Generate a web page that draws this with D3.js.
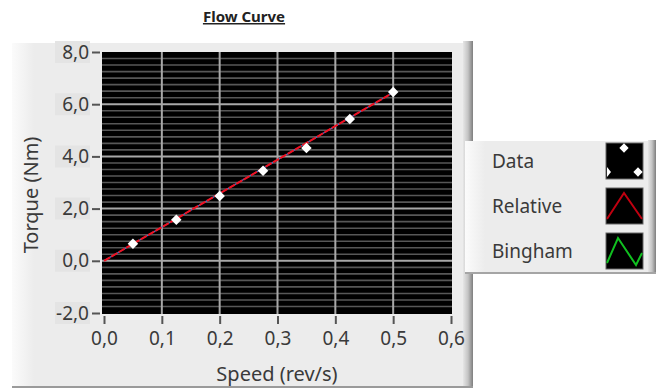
<!DOCTYPE html>
<html>
  <head>
      <title>Flow Curve</title>
      <script src="https://cdn.jsdelivr.net/npm/d3@7"></script>
      <style>
        body { margin: 0; background: #fff; }
        text { font-family: "Noto Sans", "Open Sans", sans-serif; }
      </style>
  </head>
  <body>
        <div></div>
        <script>
           // measured points: speed (rev/s) vs torque (Nm)
           var speed = [0.05, 0.125, 0.2, 0.275, 0.35, 0.425, 0.5]
           var torque = [0.65, 1.57, 2.48, 3.45, 4.32, 5.43, 6.47]
           // relative model line
           var relSpeed = [0, 0.5]
           var relTorque = [0, 6.45]
           var xTicks = [0, 0.1, 0.2, 0.3, 0.4, 0.5, 0.6]
           var yTicks = [-2, 0, 2, 4, 6, 8]
           var legendNames = ["Data", "Relative", "Bingham"]

           var W = 656, H = 392
           var svg = d3.select("div").append("svg").attr("width", W).attr("height", H)
           var defs = svg.append("defs")

           var g1 = defs.append("linearGradient").attr("id", "edge").attr("x1", 0).attr("x2", 1).attr("y1", 0).attr("y2", 0)
           g1.append("stop").attr("offset", 0).attr("stop-color", "#e6e6e6")
           g1.append("stop").attr("offset", 0.5).attr("stop-color", "#c4c4c4")
           g1.append("stop").attr("offset", 1).attr("stop-color", "#7e7e7e")
           var g2 = defs.append("linearGradient").attr("id", "leftband").attr("x1", 0).attr("x2", 1).attr("y1", 0).attr("y2", 0)
           g2.append("stop").attr("offset", 0).attr("stop-color", "#fbfbfb")
           g2.append("stop").attr("offset", 1).attr("stop-color", "#ececec")
           defs.append("filter").attr("id", "glow").append("feGaussianBlur").attr("stdDeviation", 0.6)

           svg.append("rect").attr("width", W).attr("height", H).attr("fill", "#fff")

           // title
           svg.append("text").attr("x", 244).attr("y", 22).attr("text-anchor", "middle")
              .attr("font-size", 15).attr("font-weight", "bold").attr("fill", "#222")
              .attr("text-decoration", "underline").text("Flow Curve")

           // graph panel
           var panel = svg.append("g")
           panel.append("rect").attr("x", 12).attr("y", 43).attr("width", 451).attr("height", 343).attr("fill", "#ececec")
           panel.append("rect").attr("x", 12).attr("y", 43).attr("width", 22).attr("height", 343).attr("fill", "url(#leftband)")
           panel.append("rect").attr("x", 463).attr("y", 41).attr("width", 10).attr("height", 346).attr("fill", "url(#edge)")
           panel.append("rect").attr("x", 12).attr("y", 386).attr("width", 461).attr("height", 2).attr("fill", "#9a9a9a")

           var x = d3.scaleLinear().domain([0, 0.6]).range([104, 451])
           var y = d3.scaleLinear().domain([-2, 8]).range([313, 52])
           var fmt = d => d3.format(".1f")(d).replace(".", ",").replace("−", "-")

           // label backdrops on the y axis
           panel.selectAll("rect.lb").data(yTicks).enter().append("rect").attr("class", "lb")
              .attr("x", 55).attr("y", d => y(d) - 11).attr("width", 35).attr("height", 22).attr("fill", "#e4e4e4")

           // plot area
           panel.append("rect").attr("x", 102).attr("y", 52).attr("width", 350).attr("height", 262).attr("fill", "#000")
           var minor = d3.range(-2, 8.01, 0.25).filter(v => Math.abs(v / 2 - Math.round(v / 2)) > 1e-6)
           panel.selectAll("line.mn").data(minor).enter().append("line").attr("class", "mn")
              .attr("x1", 102).attr("x2", 452).attr("y1", d => y(d)).attr("y2", d => y(d))
              .attr("stroke", "#575757").attr("stroke-width", 1.6)
           panel.selectAll("line.hy").data(yTicks.slice(1, -1)).enter().append("line").attr("class", "hy")
              .attr("x1", 102).attr("x2", 452).attr("y1", d => y(d)).attr("y2", d => y(d))
              .attr("stroke", "#a8a8a8").attr("stroke-width", 2)
           panel.selectAll("line.vx").data(xTicks.slice(1, -1)).enter().append("line").attr("class", "vx")
              .attr("y1", 52).attr("y2", 314).attr("x1", d => x(d)).attr("x2", d => x(d))
              .attr("stroke", "#a8a8a8").attr("stroke-width", 2)

           // axes
           var ax = panel.append("g").attr("transform", "translate(0,316)")
              .call(d3.axisBottom(x).tickValues(xTicks).tickFormat(fmt).tickSize(8).tickPadding(8))
           var ay = panel.append("g").attr("transform", "translate(100,0)")
              .call(d3.axisLeft(y).tickValues(yTicks).tickFormat(fmt).tickSize(8).tickPadding(3))
           ;[ax, ay].forEach(a => {
               a.select(".domain").remove()
               a.selectAll("line").attr("stroke", "#555").attr("stroke-width", 2)
               a.selectAll("text").attr("font-size", 19).attr("fill", "#3a3a3a").attr("font-family", "Noto Sans")
           })

           // axis titles
           svg.append("text").attr("transform", "translate(38,195) rotate(-90)").attr("text-anchor", "middle")
              .attr("font-size", 20).attr("fill", "#3a3a3a").text("Torque (Nm)")
           svg.append("text").attr("x", 277).attr("y", 381).attr("text-anchor", "middle")
              .attr("font-size", 20).attr("fill", "#3a3a3a").text("Speed (rev/s)")

           // model line and data
           var line = d3.line().x((d, i) => x(relSpeed[i])).y(d => y(d))
           panel.append("path").datum(relTorque).attr("d", line).attr("fill", "none")
              .attr("stroke", "#4a7ad0").attr("stroke-width", 1.2)
           panel.append("path").datum(relTorque).attr("d", line).attr("fill", "none")
              .attr("stroke", "#f01020").attr("stroke-width", 2).attr("stroke-dasharray", "7,1.5")
           var diamond = d3.symbol().type(d3.symbolDiamond2).size(70)
           panel.selectAll("path.pt").data(torque).enter().append("path").attr("class", "pt")
              .attr("d", diamond).attr("transform", (d, i) => "translate(" + x(speed[i]) + "," + y(d) + ")")
              .attr("fill", "#fff").attr("filter", "url(#glow)")

           // legend
           var leg = svg.append("g")
           leg.append("rect").attr("x", 465).attr("y", 141).attr("width", 185).attr("height", 131).attr("fill", "#ececec")
           leg.append("rect").attr("x", 465).attr("y", 141).attr("width", 20).attr("height", 131).attr("fill", "url(#leftband)")
           leg.append("rect").attr("x", 648).attr("y", 140).attr("width", 8).attr("height", 133).attr("fill", "url(#edge)")
           leg.append("rect").attr("x", 465).attr("y", 272).attr("width", 191).attr("height", 2).attr("fill", "#a5a5a5")
           var rows = leg.selectAll("g.row").data(legendNames).enter().append("g").attr("class", "row")
              .attr("transform", (d, i) => "translate(0," + (143 + i * 45) + ")")
           rows.append("text").attr("x", 492).attr("y", 25).attr("font-size", 19).attr("fill", "#3a3a3a").text(d => d)
           rows.append("rect").attr("x", 606).attr("y", 0).attr("width", 37).attr("height", 36)
              .attr("fill", "#000").attr("stroke", "#666").attr("stroke-width", 1)
           var r0 = d3.select(rows.nodes()[0])
           var sw = d3.symbol().type(d3.symbolDiamond2).size(55)
           r0.append("path").attr("d", sw).attr("transform", "translate(624,5)").attr("fill", "#fff")
           r0.append("path").attr("d", sw).attr("transform", "translate(638,29)").attr("fill", "#fff")
           r0.append("path").attr("d", "M607,24 L611,29 L607,34 Z").attr("fill", "#fff")
           d3.select(rows.nodes()[1]).append("path").attr("d", "M607,31 L624,5 L642,31")
              .attr("fill", "none").attr("stroke", "#c00010").attr("stroke-width", 2)
           d3.select(rows.nodes()[2]).append("path").attr("d", "M607,30 L618,5 L636,32 L642,20")
              .attr("fill", "none").attr("stroke", "#10c020").attr("stroke-width", 2)
        </script>
  </body>
</html>
